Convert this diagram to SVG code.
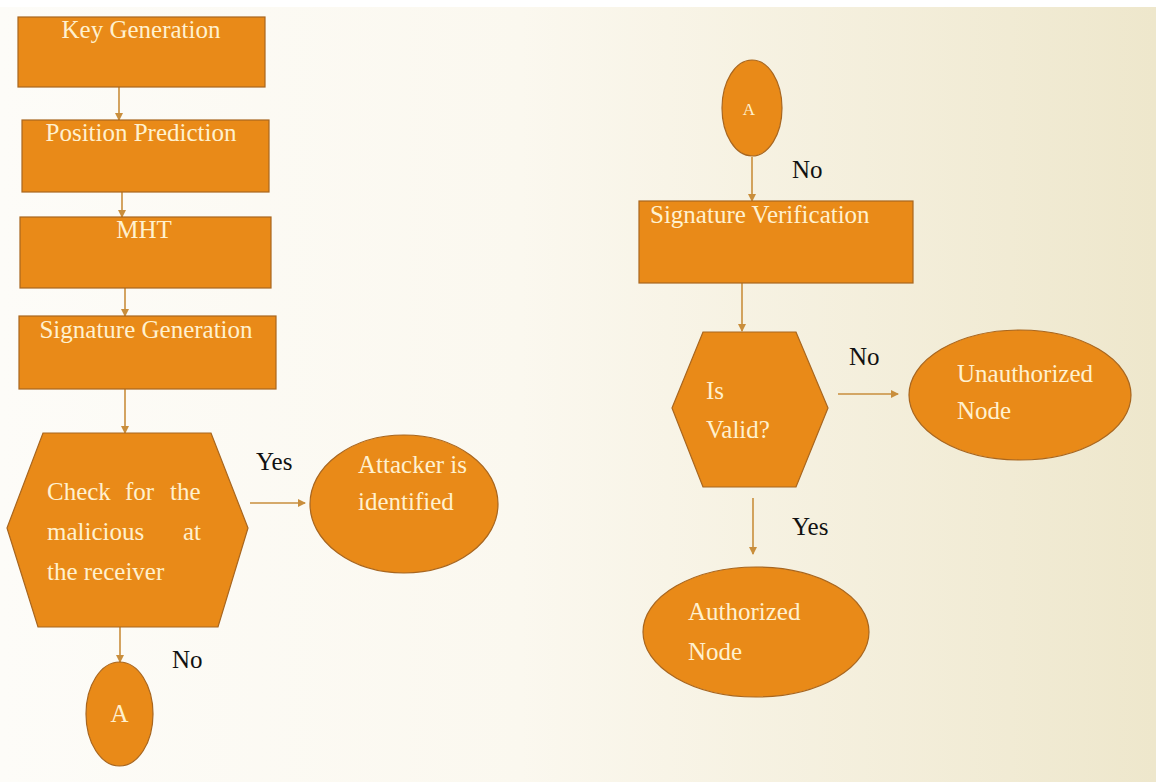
<svg xmlns="http://www.w3.org/2000/svg" width="1156" height="782" viewBox="0 0 1156 782">
<defs>
<linearGradient id="bg" x1="0" y1="0" x2="1" y2="0">
<stop offset="0" stop-color="#fdfcf8"/>
<stop offset="0.45" stop-color="#fbf8ef"/>
<stop offset="1" stop-color="#eee7cc"/>
</linearGradient>
<marker id="arr" markerWidth="8" markerHeight="8" refX="7" refY="4" orient="auto" markerUnits="userSpaceOnUse">
<path d="M0,0 L8,4 L0,8 Z" fill="#c98e3c"/>
</marker>
<style>
.box{fill:#e98a18;stroke:#a8661f;stroke-width:1.2}
.t{font-size:25px;fill:#fff1cf}
.ts{font-size:17px;fill:#fff1cf}
.lbl{font-size:25px;fill:#111}
.c{stroke:#c98e3c;stroke-width:1.6;fill:none;marker-end:url(#arr)}
</style>
</defs>
<rect x="0" y="0" width="1156" height="782" fill="#ffffff"/>
<rect x="0" y="7" width="1156" height="775" fill="url(#bg)"/>

<g font-family="'Liberation Serif', serif">
<g id="connectors">
<line class="c" x1="119" y1="87" x2="119" y2="120"/>
<line class="c" x1="122" y1="192" x2="122" y2="217"/>
<line class="c" x1="125" y1="288" x2="125" y2="316"/>
<line class="c" x1="125" y1="389" x2="125" y2="433"/>
<line class="c" x1="250" y1="503" x2="305" y2="503"/>
<line class="c" x1="120" y1="627" x2="120" y2="662"/>
<line class="c" x1="752" y1="157" x2="752" y2="201"/>
<line class="c" x1="742" y1="283" x2="742" y2="331"/>
<line class="c" x1="838" y1="394" x2="898" y2="394"/>
<line class="c" x1="753" y1="498" x2="753" y2="554"/>
<text class="lbl" x="256" y="470">Yes</text>
<text class="lbl" x="172" y="668">No</text>
<text class="lbl" x="792" y="178">No</text>
<text class="lbl" x="849" y="365">No</text>
<text class="lbl" x="792" y="535">Yes</text>
</g>

<g id="key-generation">
<rect class="box" x="18" y="17" width="247" height="70"/>
<text class="t" x="141" y="38" text-anchor="middle">Key Generation</text>
</g>
<g id="position-prediction">
<rect class="box" x="22" y="120" width="247" height="72"/>
<text class="t" x="141" y="141" text-anchor="middle">Position Prediction</text>
</g>
<g id="mht">
<rect class="box" x="20" y="217" width="251" height="71"/>
<text class="t" x="144" y="238" text-anchor="middle">MHT</text>
</g>
<g id="signature-generation">
<rect class="box" x="19" y="316" width="257" height="73"/>
<text class="t" x="146" y="338" text-anchor="middle">Signature Generation</text>
</g>
<g id="check-malicious">
<polygon class="box" points="43,433 211,433 248,528 218,627 38,627 7,528"/>
<text class="t" x="47" y="500">Check</text>
<text class="t" x="125" y="500">for</text>
<text class="t" x="170" y="500">the</text>
<text class="t" x="47" y="540">malicious</text>
<text class="t" x="183" y="540">at</text>
<text class="t" x="47" y="580">the receiver</text>
</g>
<g id="attacker-identified">
<ellipse class="box" cx="404" cy="504" rx="94" ry="69"/>
<text class="t" x="358" y="473">Attacker is</text>
<text class="t" x="358" y="510">identified</text>
</g>
<g id="connector-a-left">
<ellipse class="box" cx="119.5" cy="714" rx="33.5" ry="52"/>
<text class="t" x="119.5" y="722" text-anchor="middle">A</text>
</g>
<g id="connector-a-right">
<ellipse class="box" cx="752" cy="108" rx="30" ry="48"/>
<text class="ts" x="749" y="115" text-anchor="middle">A</text>
</g>
<g id="signature-verification">
<rect class="box" x="639" y="201" width="274" height="82"/>
<text class="t" x="650" y="223">Signature Verification</text>
</g>
<g id="is-valid">
<polygon class="box" points="703,332 796,332 828,408 796,487 703,487 672,408"/>
<text class="t" x="706" y="399">Is</text>
<text class="t" x="706" y="438">Valid?</text>
</g>
<g id="unauthorized-node">
<ellipse class="box" cx="1020" cy="395" rx="111" ry="65"/>
<text class="t" x="957" y="382">Unauthorized</text>
<text class="t" x="957" y="419">Node</text>
</g>
<g id="authorized-node">
<ellipse class="box" cx="756" cy="632" rx="113" ry="65"/>
<text class="t" x="688" y="620">Authorized</text>
<text class="t" x="688" y="660">Node</text>
</g>
</g>
</svg>
